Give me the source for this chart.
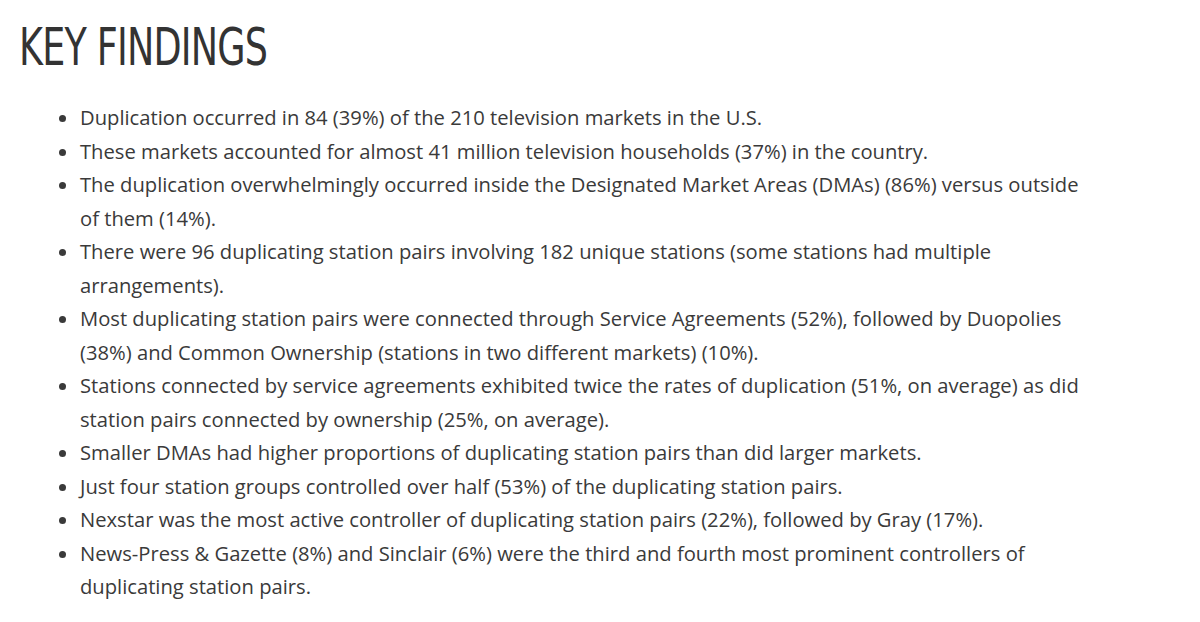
<!DOCTYPE html>
<html>
<head>
<meta charset="utf-8">
<script src="https://cdn.jsdelivr.net/npm/chart.js@4"></script>
<style>
  body { margin: 0; background: #fff; width: 1200px; height: 622px; overflow: hidden; }
  h1 {
    font-family: "DejaVu Sans Condensed", "DejaVu Sans", sans-serif;
    font-stretch: condensed; font-weight: normal;
    font-size: 52px; color: #333; margin: 0; position: absolute; left: 19px; top: 17px;
    letter-spacing: -1px; transform: scaleX(0.78); transform-origin: left;
  }
  ul {
    position: absolute; left: 40px; top: 101px; margin: 0; padding-left: 40px;
    width: 1010px; font-family: "Open Sans", sans-serif; font-size: 20.2px;
    line-height: 33.5px; color: #3a3a3a;
  }
</style>
</head>
<body>
<h1 id="title"></h1>
<ul id="findings"></ul>
<script>
  // heading and bullet texts of the findings list
  const title = "KEY FINDINGS";
  const findings = [
    "Duplication occurred in 84 (39%) of the 210 television markets in the U.S.",
    "These markets accounted for almost 41 million television households (37%) in the country.",
    "The duplication overwhelmingly occurred inside the Designated Market Areas (DMAs) (86%) versus outside of them (14%).",
    "There were 96 duplicating station pairs involving 182 unique stations (some stations had multiple arrangements).",
    "Most duplicating station pairs were connected through Service Agreements (52%), followed by Duopolies (38%) and Common Ownership (stations in two different markets) (10%).",
    "Stations connected by service agreements exhibited twice the rates of duplication (51%, on average) as did station pairs connected by ownership (25%, on average).",
    "Smaller DMAs had higher proportions of duplicating station pairs than did larger markets.",
    "Just four station groups controlled over half (53%) of the duplicating station pairs.",
    "Nexstar was the most active controller of duplicating station pairs (22%), followed by Gray (17%).",
    "News-Press & Gazette (8%) and Sinclair (6%) were the third and fourth most prominent controllers of duplicating station pairs."
  ];

  document.getElementById("title").textContent = title;
  const list = document.getElementById("findings");
  findings.forEach((text) => {
    const li = document.createElement("li");
    li.textContent = text;
    list.appendChild(li);
  });
</script>
</body>
</html>
